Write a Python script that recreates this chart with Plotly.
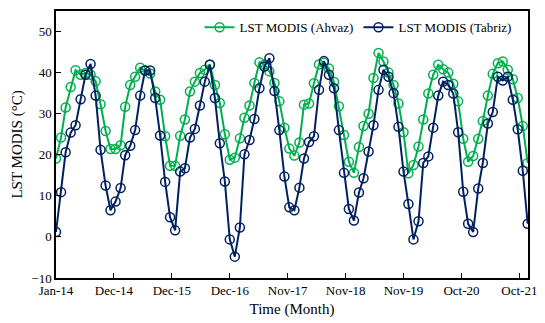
import pandas as pd
import plotly.graph_objects as go

# Monthly land surface temperature (MODIS), Jan 2014 - Dec 2021
months = pd.date_range("2014-01-01", periods=96, freq="MS")

lst_ahvaz = [
    19.1, 24.2, 31.5, 36.5, 40.6, 39.5, 39.9, 39.5, 37.9, 32.3, 25.8, 21.4,
    21.4, 22.3, 31.7, 37.0, 39.0, 41.2, 40.5, 39.8, 35.4, 33.4, 24.5, 17.3,
    17.3, 24.6, 28.6, 35.4, 37.8, 39.9, 40.7, 42.0, 37.0, 32.6, 25.0, 18.8,
    19.3, 24.0, 29.0, 32.0, 37.5, 42.5, 42.0, 40.3, 37.5, 33.0, 26.6, 21.5,
    19.8, 23.0, 32.2, 32.5, 37.4, 42.0, 42.4, 41.0, 37.7, 31.8, 24.8, 18.3,
    15.6, 21.9, 27.0, 30.0, 38.7, 44.8, 42.7, 40.0, 37.0, 32.5, 25.5, 15.5,
    17.5, 22.0, 28.6, 34.9, 39.5, 41.9, 40.8, 40.0, 37.3, 33.0, 23.9, 18.3,
    19.7, 23.9, 28.2, 34.4, 39.7, 42.3, 42.7, 40.7, 38.4, 33.8, 27.0, 18.0,
]

lst_tabriz = [
    1.2, 10.9, 20.6, 25.4, 27.2, 33.5, 39.5, 42.1, 34.4, 21.2, 12.5, 6.5,
    8.6, 11.9, 19.9, 22.2, 26.0, 34.4, 40.5, 40.5, 33.8, 24.7, 13.4, 4.8,
    1.6, 15.9, 16.7, 24.2, 26.3, 32.0, 37.8, 41.9, 33.8, 22.8, 13.5, -0.6,
    -4.8, 2.3, 20.1, 23.6, 28.7, 36.2, 41.5, 43.5, 35.5, 26.0, 14.7, 7.2,
    6.5, 12.0, 19.1, 23.1, 24.5, 35.8, 42.8, 39.5, 36.2, 26.0, 15.6, 6.8,
    4.0, 10.8, 14.3, 20.8, 27.2, 35.8, 40.7, 39.0, 35.0, 26.8, 15.9, 8.0,
    -0.6, 3.8, 18.0, 19.6, 26.6, 34.4, 37.8, 37.0, 34.9, 25.5, 11.0, 3.2,
    1.2, 11.8, 18.0, 27.6, 30.4, 39.0, 38.1, 39.0, 33.4, 26.2, 16.1, 3.2,
]

series_names = ["LST MODIS (Ahvaz)", "LST MODIS (Tabriz)"]
series_colors = ["#00B050", "#002060"]

FONT = "Liberation Serif"

fig = go.Figure()
for name, values, color in zip(series_names, [lst_ahvaz, lst_tabriz], series_colors):
    fig.add_trace(go.Scatter(
        x=months, y=values, name=name, mode="lines+markers",
        line=dict(color=color, width=2),
        marker=dict(symbol="circle-open", size=9, color=color, line=dict(width=1.5)),
    ))

axis_common = dict(
    showline=True, linecolor="black", linewidth=1.5, mirror=True,
    ticks="inside", ticklen=5, tickcolor="black", tickwidth=1,
    showgrid=False, zeroline=False,
    tickfont=dict(family=FONT, size=13, color="black"),
)

fig.update_xaxes(
    type="date",
    range=["2014-01-01", "2021-12-03"],
    tick0="2014-01-01",
    dtick=355 * 86400000,
    tickformat="%b-%y",
    title=dict(text="Time (Month)", font=dict(family=FONT, size=15, color="black"), standoff=6),
    **axis_common,
)
fig.update_yaxes(
    range=[-10, 55],
    tickvals=[-10, 0, 10, 20, 30, 40, 50],
    title=dict(text="LST MODIS (°C)", font=dict(family=FONT, size=15, color="black"), standoff=5),
    **axis_common,
)

fig.update_layout(
    width=545, height=323,
    margin=dict(l=56, r=8, t=11, b=44),
    paper_bgcolor="white", plot_bgcolor="white",
    showlegend=True,
    legend=dict(
        orientation="h", x=0.64, xanchor="center", y=0.995, yanchor="top",
        font=dict(family=FONT, size=13, color="black"),
        bgcolor="rgba(255,255,255,0)", itemwidth=30, tracegroupgap=0,
    ),
)

fig.write_html("out.html")
